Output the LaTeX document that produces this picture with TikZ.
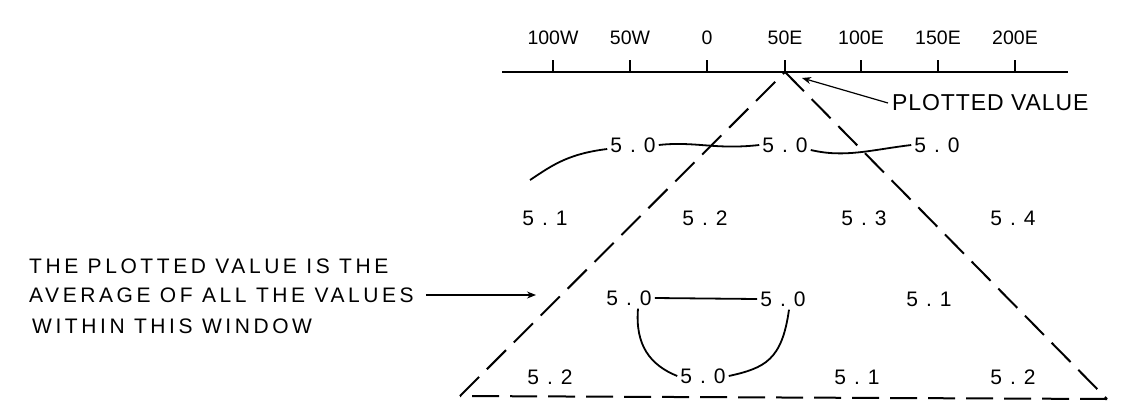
\documentclass[tikz,border=0pt]{standalone}
\usepackage{fontspec}
\setmainfont{Liberation Sans}
\newfontfamily\valfont[LetterSpace=38]{Liberation Sans}
\newfontfamily\notefont[LetterSpace=17]{Liberation Sans}
\newfontfamily\pvfont[LetterSpace=4]{Liberation Sans}
\usetikzlibrary{arrows.meta}

\begin{document}
\begin{tikzpicture}[x=1pt,y=-1pt,
  val/.style={font=\valfont\fontsize{21}{21}\selectfont,inner sep=3pt},
  scalelab/.style={font=\fontsize{19.5}{19.5}\selectfont,inner sep=0pt},
  note/.style={font=\notefont\fontsize{21}{21}\selectfont,anchor=west,inner sep=0pt},
  window/.style={line width=2pt,dash pattern=on 27pt off 11pt},
  link/.style={line width=1.8pt},
  pointer/.style={line width=1.2pt,-{Stealth[length=9pt,width=7pt]}}]
\useasboundingbox (0,0) rectangle (1121,413);
% longitude scale
\draw[line width=1.3pt] (502,72) -- (1068,72);
\foreach \x/\lab [count=\i] in {553/100W,630/50W,707/0,785/50E,861/100E,938/150E,1015/200E} {
  \draw[line width=1.5pt] (\x,60) -- (\x,72);
  \node[scalelab] (lab\i) at (\x,38) {\lab};
}
% averaging window
\coordinate (apex) at (785,72);
\coordinate (bl) at (460,396);
\coordinate (br) at (1107,399);
\draw[window] (bl) -- (apex);
\draw[window] (apex) -- (br);
\draw[window] (br) -- (bl);
% grid values
\node[val] (r1a) at (633,145) {5.0};
\node[val] (r1b) at (785,145) {5.0};
\node[val] (r1c) at (937,145) {5.0};
\node[val] (r2a) at (545,218) {5.1};
\node[val] (r2b) at (705,218) {5.2};
\node[val] (r2c) at (864,218) {5.3};
\node[val] (r2d) at (1013,218) {5.4};
\node[val] (r3a) at (629,298) {5.0};
\node[val] (r3b) at (783,299) {5.0};
\node[val] (r3c) at (929,299) {5.1};
\node[val] (r4a) at (550,377) {5.2};
\node[val] (r4b) at (703,376) {5.0};
\node[val] (r4c) at (857,377) {5.1};
\node[val] (r4d) at (1013,377) {5.2};
% contours
\coordinate (off) at (530,180);
\draw[link] (off) .. controls (550,167) and (566,154) .. ([yshift=-4pt]r1a.west);
\draw[link] (r1a.east) .. controls (695,141) and (715,150) .. (r1b.west);
\draw[link] ([yshift=-5pt]r1b.east) .. controls (845,158) and (870,150) .. (r1c.west);
\draw[link] (r3a.east) -- (r3b.west);
\draw[link] ([xshift=9pt]r3a.south) .. controls (635,345) and (650,365) .. (r4b.west);
\draw[link] ([xshift=6pt]r3b.south) .. controls (782,360) and (765,368) .. (r4b.east);
% labels
\node[font=\pvfont\fontsize{23}{23}\selectfont,anchor=west,inner sep=0pt] (pv) at (892,103) {PLOTTED VALUE};
\coordinate (tip) at (802,78);
\draw[pointer] ([xshift=-4pt]pv.west) -- (tip);
\node[note] (note1) at (29,266) {THE PLOTTED VALUE IS THE};
\node[note] (note2) at (29,295) {AVERAGE OF ALL THE VALUES};
\node[note] (note3) at (32,326) {WITHIN THIS WINDOW};
\coordinate (inside) at (536,295);
\draw[pointer] ([xshift=12pt]note2.east) -- (inside);
\end{tikzpicture}
\end{document}
